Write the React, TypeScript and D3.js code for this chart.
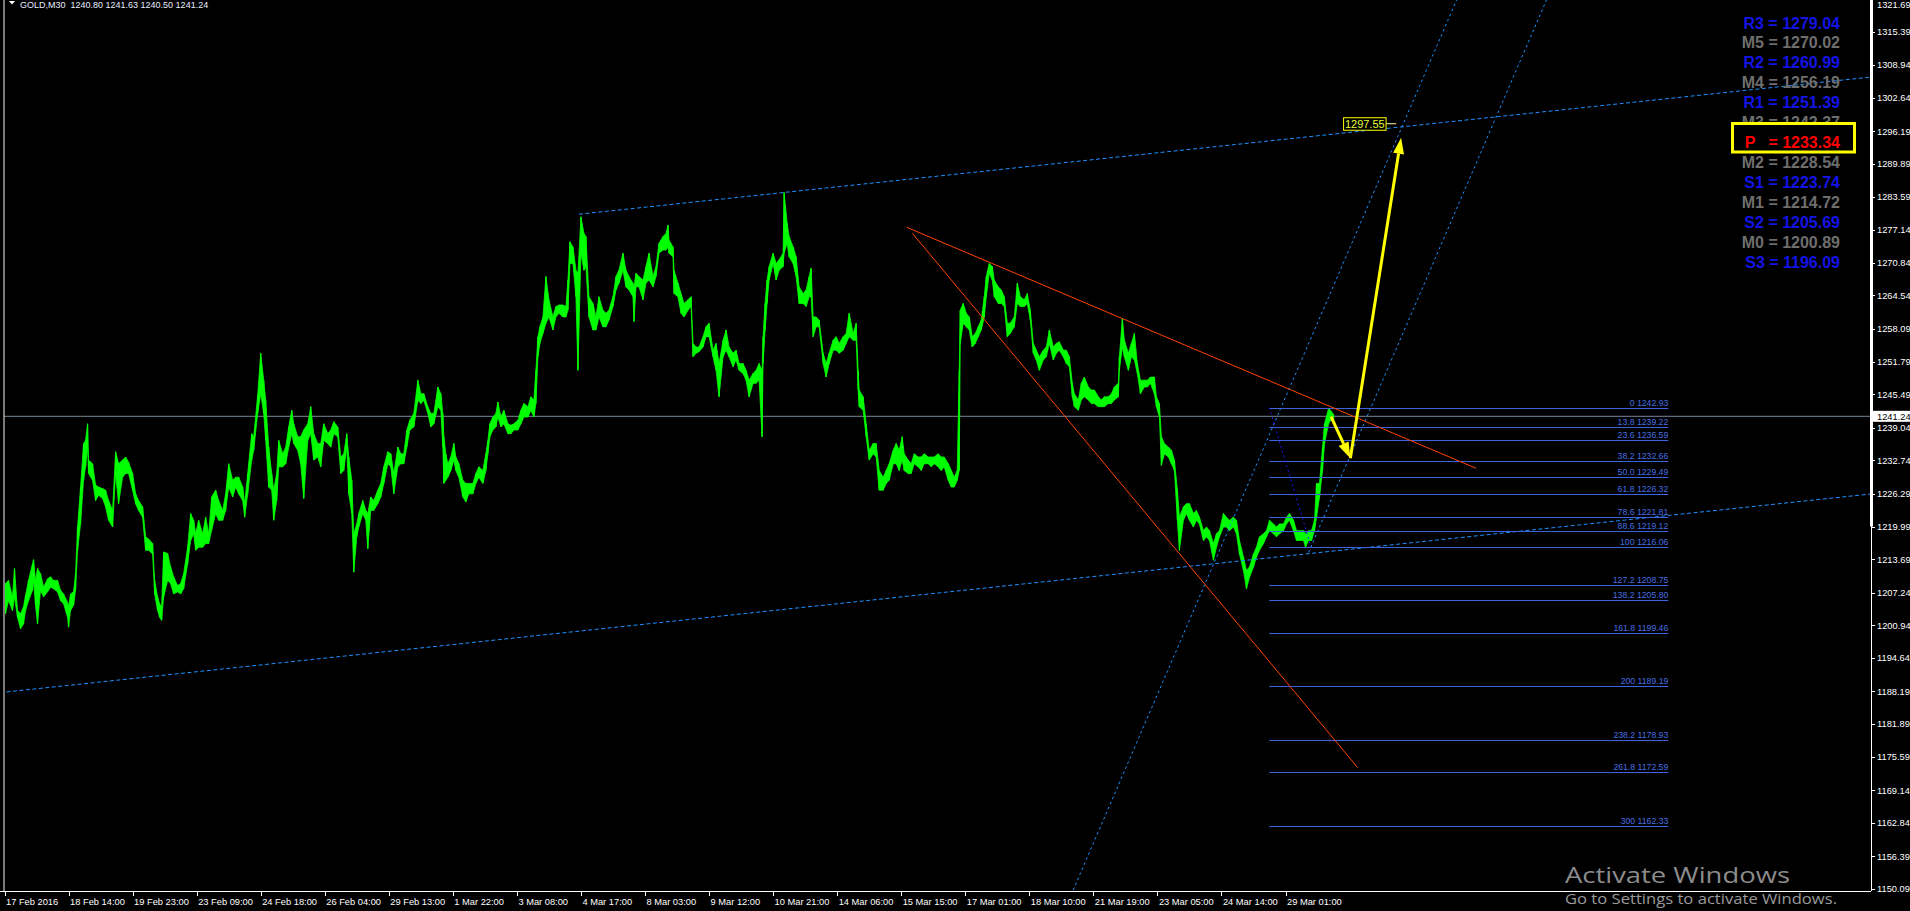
import React from 'react';
import * as d3 from 'd3';

// ---------- price series (M30 bars, sampled) : bar index, high, low ----------
const bars = [
  1, 4, 8, 10, 13, 16, 19, 21, 24, 28, 29, 31, 33, 36, 39, 43, 46, 49, 53, 56, 59, 63, 64, 66, 69, 71, 73, 76, 79, 81, 83, 84, 88, 91, 94, 98,
  101, 104, 108, 111, 114, 118, 121, 124, 128, 131, 134, 138, 141, 144, 148, 150, 153, 155, 157, 159, 163, 166, 169, 173, 176, 179, 183, 186, 189, 191, 194, 198,
  201, 204, 207, 211, 214, 218, 221, 224, 228, 231, 234, 238, 240, 243, 247, 249, 253, 256, 259, 261, 264, 267, 269, 272, 274, 278, 281, 284, 287, 289, 293, 296, 299,
  303, 306, 309, 313, 316, 319, 323, 326, 329, 333, 336, 339, 342, 344, 347, 349, 352, 354, 358, 361, 363, 366, 369, 373, 376, 379, 383, 386, 389, 393, 396, 399,
  402, 405, 409, 413, 416, 419, 423, 426, 429, 433, 436, 438,
  439, 441, 443, 446, 449, 451, 454, 458, 461, 464, 468, 471, 474, 478, 481, 483, 485, 488, 491, 493, 496, 499,
  503, 506, 509, 513, 516, 519, 523, 526, 529, 531, 533, 535, 538, 541, 544, 548, 551, 554, 558, 561, 563, 565, 568, 571, 573, 576, 579, 581, 584, 588, 591, 594, 598,
  601, 604, 608, 611, 614, 618, 621, 624, 628, 629, 631, 634, 638, 641, 644, 648, 651, 654, 658, 661, 663, 664, 668, 669, 673, 676, 679, 683, 686, 688, 691, 694, 698,
  701, 704, 708, 711, 714, 718, 721, 724, 728, 731, 734, 738, 741, 744, 748, 751, 754, 757, 758, 760, 762, 764, 768, 771, 774, 778, 779, 782, 784, 788, 791, 794, 798,
  801, 804, 806, 808, 811, 814, 818, 821, 824, 828, 831, 834, 838, 841, 844, 848, 851, 853, 854, 858, 861, 864, 868, 871, 874, 878,
  881, 884, 888, 891, 894, 897, 899, 903, 906, 909, 913, 916, 919, 923, 926, 929, 933, 936, 939, 943, 946, 949, 952, 954, 955, 958, 961, 964, 967, 970, 973, 976, 979, 981, 984, 987, 989, 993, 996, 999,
  1002, 1005, 1009, 1012, 1015, 1019, 1022, 1025, 1028, 1031, 1034, 1038, 1041, 1044, 1048, 1051, 1054, 1058, 1061, 1064, 1067, 1069, 1073, 1076, 1079, 1083, 1086, 1089, 1093, 1096, 1099,
  1103, 1106, 1109, 1113, 1114, 1117, 1119, 1123, 1126, 1129, 1132, 1135, 1139, 1142, 1145, 1149, 1151, 1154, 1156, 1159, 1163, 1166, 1169, 1172, 1174, 1178, 1181, 1184, 1188, 1191, 1194, 1198,
  1201, 1204, 1208, 1211, 1214, 1218, 1221, 1224, 1228, 1231, 1234, 1238, 1241, 1244, 1248, 1251, 1254, 1258, 1261, 1264, 1268, 1271, 1274, 1278, 1281, 1284, 1288, 1291, 1294, 1298,
  1300, 1303, 1306, 1309, 1311, 1314, 1317, 1319, 1323, 1325, 1328,
];
const highs = [
  1209.0, 1209.6, 1206.4, 1211.9, 1203.8, 1203.2, 1204.5, 1206.7, 1209.6, 1212.8, 1213.6, 1209.6, 1211.9, 1210.9, 1208.3, 1209.9, 1210.3, 1209.6, 1209.6, 1207.7, 1207.0, 1205.4, 1204.5, 1207.0, 1207.4, 1210.9, 1219.9, 1227.6, 1236.0, 1236.6, 1239.8, 1232.8, 1232.1, 1228.0, 1227.6, 1227.3,
  1227.0, 1225.0, 1223.1, 1234.4, 1232.1, 1232.8, 1233.4, 1232.4, 1230.2, 1226.3, 1225.0, 1223.8, 1218.0, 1217.6, 1216.7, 1209.6, 1206.4, 1205.1, 1204.5, 1215.1, 1214.8, 1212.2, 1210.3, 1208.6, 1209.0, 1210.9, 1216.0, 1222.5, 1221.2, 1218.6, 1221.2, 1218.6,
  1221.8, 1218.6, 1225.7, 1227.0, 1225.0, 1223.1, 1226.3, 1232.1, 1228.9, 1229.5, 1229.5, 1227.6, 1224.4, 1230.2, 1237.9, 1237.3, 1245.3, 1253.4, 1248.2, 1244.3, 1235.3, 1230.2, 1227.0, 1230.2, 1236.6, 1234.0, 1235.3, 1239.2, 1242.4, 1239.8, 1237.3, 1237.3, 1238.6,
  1239.8, 1243.1, 1237.9, 1236.0, 1236.0, 1239.8, 1237.9, 1238.6, 1240.2, 1239.2, 1233.4, 1234.0, 1237.9, 1233.4, 1228.9, 1218.6, 1220.5, 1222.5, 1225.0, 1223.1, 1222.5, 1225.7, 1225.0, 1227.0, 1228.3, 1231.5, 1234.4, 1234.0, 1230.2, 1235.3, 1234.0, 1234.0,
  1238.6, 1240.5, 1241.8, 1248.2, 1245.6, 1245.6, 1243.1, 1241.8, 1241.8, 1246.9, 1245.6, 1241.8,
  1237.3, 1234.0, 1232.1, 1233.4, 1236.0, 1233.4, 1232.1, 1228.9, 1228.3, 1228.3, 1228.3, 1230.2, 1231.5, 1230.8, 1234.0, 1236.6, 1239.8, 1241.1, 1241.8, 1244.0, 1241.1, 1242.4,
  1239.8, 1239.5, 1239.8, 1240.5, 1242.4, 1243.7, 1243.1, 1245.0, 1244.4, 1250.1, 1256.6, 1258.5, 1260.4, 1268.2, 1263.7, 1260.4, 1262.4, 1262.7, 1262.7, 1262.4, 1267.5, 1274.9, 1273.9, 1269.4, 1268.8, 1279.7, 1276.5, 1275.9, 1264.3, 1263.0, 1260.4, 1264.3, 1261.7,
  1261.1, 1261.7, 1264.3, 1268.2, 1269.4, 1272.7, 1269.4, 1268.2, 1266.9, 1266.2, 1268.8, 1268.2, 1267.5, 1270.1, 1272.7, 1268.2, 1270.1, 1274.6, 1275.9, 1276.5, 1278.1, 1275.2, 1273.9, 1269.4, 1266.9, 1264.9, 1263.0, 1263.7, 1264.3, 1255.3, 1254.6, 1254.6, 1256.6,
  1258.5, 1259.2, 1254.0, 1255.3, 1251.4, 1255.9, 1257.9, 1254.6, 1253.4, 1254.0, 1251.4, 1251.4, 1250.1, 1248.2, 1249.5, 1250.1, 1251.4, 1250.1, 1256.6, 1263.0, 1267.5, 1270.1, 1272.7, 1270.7, 1271.4, 1272.7, 1284.4, 1278.5, 1275.9, 1273.9, 1272.0, 1266.2, 1264.9,
  1265.6, 1268.2, 1269.8, 1260.4, 1260.4, 1259.8, 1253.4, 1251.4, 1253.4, 1255.9, 1256.6, 1255.3, 1256.6, 1257.2, 1261.1, 1257.2, 1259.2, 1250.1, 1246.3, 1245.0, 1239.8, 1234.7, 1236.0, 1236.0, 1230.8, 1229.5,
  1230.8, 1232.1, 1234.7, 1236.0, 1234.7, 1237.3, 1234.0, 1232.8, 1232.1, 1234.0, 1233.4, 1233.4, 1234.0, 1233.4, 1233.4, 1233.4, 1234.0, 1233.4, 1233.4, 1232.1, 1230.8, 1229.5, 1230.8, 1250.1, 1261.7, 1263.0, 1261.1, 1260.4, 1256.6, 1257.2, 1258.5, 1259.8, 1264.3, 1268.2, 1270.7, 1270.1, 1267.5, 1266.2, 1265.6, 1264.3,
  1259.2, 1259.2, 1260.4, 1266.9, 1264.3, 1263.7, 1264.9, 1261.7, 1255.3, 1254.0, 1252.7, 1254.0, 1254.6, 1257.9, 1254.6, 1255.3, 1255.6, 1254.0, 1254.0, 1252.7, 1247.6, 1245.6, 1244.4, 1247.6, 1248.8, 1246.9, 1246.3, 1246.3, 1245.0, 1244.4, 1245.0,
  1245.0, 1245.6, 1246.9, 1247.6, 1252.7, 1260.1, 1255.9, 1253.4, 1255.3, 1257.2, 1251.4, 1248.2, 1248.2, 1248.2, 1248.8, 1248.8, 1245.0, 1243.7, 1237.3, 1236.0, 1235.3, 1234.7, 1232.8, 1227.0, 1221.8, 1223.8, 1224.4, 1224.4, 1222.5, 1223.1, 1221.8, 1219.2,
  1219.9, 1219.2, 1216.7, 1218.6, 1219.2, 1222.5, 1221.8, 1221.2, 1221.8, 1221.2, 1217.3, 1214.1, 1211.5, 1212.2, 1214.7, 1216.0, 1218.0, 1218.6, 1219.2, 1221.2, 1220.5, 1219.9, 1220.5, 1220.5, 1221.8, 1222.5, 1221.2, 1219.2, 1219.2, 1219.2,
  1218.6, 1219.2, 1219.2, 1221.2, 1228.3, 1228.3, 1235.3, 1239.8, 1242.7, 1242.4, 1241.6,
];
const lows = [
  1203.2, 1205.7, 1203.8, 1206.4, 1202.5, 1200.3, 1201.2, 1203.8, 1205.7, 1207.7, 1209.6, 1204.8, 1201.2, 1207.7, 1206.4, 1207.4, 1208.3, 1208.0, 1207.4, 1205.7, 1205.1, 1202.5, 1200.6, 1203.8, 1204.8, 1207.7, 1215.4, 1220.5, 1228.9, 1231.5, 1235.3, 1230.2, 1228.9, 1225.0, 1226.0, 1225.4,
  1223.8, 1221.2, 1219.9, 1230.2, 1224.4, 1229.5, 1230.2, 1230.2, 1227.0, 1224.4, 1223.1, 1221.8, 1215.4, 1215.4, 1214.7, 1207.0, 1203.8, 1202.5, 1201.9, 1206.4, 1209.6, 1209.0, 1207.0, 1207.4, 1207.0, 1208.0, 1212.8, 1217.3, 1218.6, 1215.4, 1216.0, 1216.0,
  1216.7, 1216.7, 1219.3, 1222.5, 1221.2, 1221.2, 1223.1, 1227.6, 1225.7, 1227.6, 1226.3, 1225.0, 1221.8, 1226.3, 1232.8, 1234.7, 1241.8, 1245.6, 1241.8, 1236.6, 1227.6, 1227.0, 1221.2, 1225.0, 1231.5, 1231.5, 1232.1, 1235.3, 1237.9, 1236.0, 1234.7, 1232.1, 1225.4,
  1236.6, 1237.9, 1232.8, 1233.4, 1231.5, 1236.6, 1236.0, 1235.3, 1237.9, 1237.3, 1230.2, 1230.8, 1235.3, 1226.3, 1222.5, 1211.2, 1218.0, 1219.9, 1222.5, 1221.2, 1215.7, 1223.1, 1223.1, 1224.4, 1225.7, 1228.3, 1232.1, 1231.5, 1226.3, 1231.5, 1232.1, 1232.1,
  1235.3, 1238.6, 1239.2, 1244.3, 1243.7, 1244.3, 1241.8, 1239.2, 1239.8, 1243.1, 1242.4, 1235.3,
  1228.3, 1228.9, 1229.5, 1230.8, 1232.8, 1230.8, 1229.5, 1225.7, 1224.7, 1226.3, 1226.3, 1228.3, 1229.5, 1228.3, 1230.8, 1234.0, 1237.3, 1238.6, 1239.2, 1241.1, 1239.2, 1239.8,
  1237.9, 1237.9, 1238.6, 1238.6, 1239.8, 1241.1, 1241.1, 1242.4, 1241.1, 1243.7, 1252.7, 1255.3, 1257.2, 1259.2, 1260.4, 1257.9, 1260.4, 1261.1, 1260.4, 1260.4, 1261.7, 1270.7, 1270.7, 1264.3, 1250.1, 1272.7, 1269.4, 1270.1, 1260.4, 1257.9, 1257.9, 1260.4, 1258.5,
  1258.5, 1259.8, 1262.4, 1265.6, 1266.9, 1269.4, 1266.2, 1265.6, 1264.3, 1259.5, 1266.2, 1266.2, 1263.7, 1266.9, 1267.5, 1266.2, 1268.2, 1272.7, 1273.3, 1273.3, 1273.9, 1272.7, 1272.0, 1264.9, 1264.3, 1261.1, 1260.4, 1261.7, 1262.4, 1252.7, 1253.4, 1253.7, 1254.6,
  1256.6, 1256.6, 1252.7, 1250.1, 1245.0, 1252.7, 1254.0, 1252.7, 1250.8, 1252.1, 1250.1, 1249.5, 1248.2, 1245.0, 1247.6, 1247.6, 1248.2, 1237.3, 1251.4, 1257.9, 1263.0, 1267.5, 1270.7, 1267.5, 1269.4, 1270.1, 1272.7, 1274.6, 1272.0, 1270.7, 1268.2, 1263.0, 1263.0,
  1262.4, 1264.3, 1264.3, 1256.6, 1258.5, 1258.5, 1251.4, 1248.8, 1251.4, 1254.0, 1254.0, 1253.4, 1254.0, 1255.3, 1256.6, 1255.9, 1255.9, 1246.3, 1243.1, 1242.4, 1237.3, 1232.8, 1234.0, 1233.4, 1227.0, 1227.0,
  1228.3, 1228.9, 1232.1, 1232.1, 1230.8, 1232.8, 1230.8, 1230.2, 1230.2, 1232.1, 1231.5, 1230.8, 1232.1, 1232.1, 1231.5, 1232.1, 1231.5, 1230.8, 1231.5, 1228.9, 1227.6, 1227.6, 1228.9, 1230.8, 1255.3, 1259.2, 1258.5, 1257.9, 1254.6, 1255.3, 1256.6, 1257.9, 1260.4, 1264.3, 1268.8, 1267.5, 1264.3, 1263.0, 1263.0, 1262.4,
  1256.6, 1257.2, 1258.5, 1263.0, 1262.4, 1262.4, 1263.0, 1259.8, 1253.4, 1252.1, 1250.1, 1252.1, 1252.7, 1255.3, 1252.1, 1253.4, 1254.0, 1252.7, 1251.4, 1250.8, 1245.0, 1243.1, 1242.4, 1244.4, 1245.0, 1244.4, 1243.7, 1243.7, 1243.1, 1243.1, 1243.1,
  1243.7, 1243.7, 1244.4, 1245.0, 1250.1, 1254.6, 1252.7, 1250.1, 1252.7, 1252.1, 1249.5, 1245.6, 1246.9, 1246.9, 1247.6, 1245.6, 1243.1, 1241.1, 1231.8, 1234.0, 1233.4, 1232.1, 1230.8, 1221.2, 1215.4, 1221.2, 1222.5, 1221.2, 1219.9, 1221.2, 1220.5, 1217.3,
  1218.0, 1217.3, 1213.5, 1216.0, 1218.0, 1219.9, 1219.9, 1219.2, 1219.9, 1218.6, 1214.7, 1211.5, 1208.0, 1210.2, 1212.2, 1214.1, 1215.4, 1216.7, 1218.0, 1219.2, 1218.6, 1218.0, 1218.6, 1219.2, 1220.5, 1221.2, 1219.2, 1217.3, 1217.3, 1217.3,
  1216.0, 1217.3, 1217.3, 1219.2, 1221.8, 1225.7, 1230.8, 1236.0, 1239.8, 1240.5, 1240.5,
];

// ---------- axes ----------
const priceTicks = [
  1321.69, 1315.39, 1308.94, 1302.64, 1296.19, 1289.89, 1283.59, 1277.14, 1270.84, 1264.54, 1258.09, 1251.79, 1245.49,
  1239.04, 1232.74, 1226.29, 1219.99, 1213.69, 1207.24, 1200.94, 1194.64, 1188.19, 1181.89, 1175.59, 1169.14, 1162.84, 1156.39, 1150.09,
];
const currentPrice = 1241.24;
const titleText = 'GOLD,M30  1240.80 1241.63 1240.50 1241.24';
const dateTickBars = [0, 64, 128, 192, 256, 320, 384, 448, 512, 576, 640, 704, 768, 832, 896, 960, 1024, 1088, 1152, 1216, 1280];
const dateLabels = [
  '17 Feb 2016', '18 Feb 14:00', '19 Feb 23:00', '23 Feb 09:00', '24 Feb 18:00', '26 Feb 04:00', '29 Feb 13:00',
  '1 Mar 22:00', '3 Mar 08:00', '4 Mar 17:00', '8 Mar 03:00', '9 Mar 12:00', '10 Mar 21:00', '14 Mar 06:00',
  '15 Mar 15:00', '17 Mar 01:00', '18 Mar 10:00', '21 Mar 19:00', '23 Mar 05:00', '24 Mar 14:00', '29 Mar 01:00',
];

// ---------- Fibonacci ----------
const fibLevels = ['0', '13.8', '23.6', '38.2', '50.0', '61.8', '78.6', '88.6', '100', '127.2', '138.2', '161.8', '200', '238.2', '261.8', '300'];
const fibPrices = [1242.93, 1239.22, 1236.59, 1232.66, 1229.49, 1226.32, 1221.81, 1219.12, 1216.06, 1208.75, 1205.80, 1199.46, 1189.19, 1178.93, 1172.59, 1162.33];
const fibStartBar = 1263.8;
const fibEndBar = 1662.5;
const fibDiagonal = [[1263.8, 1242.93], [1305.5, 1216.06]];

// ---------- Pivot table ----------
const pivotNames = ['R3', 'M5', 'R2', 'M4', 'R1', 'M3', 'P', 'M2', 'S1', 'M1', 'S2', 'M0', 'S3'];
const pivotValues = [1279.04, 1270.02, 1260.99, 1256.19, 1251.39, 1242.37, 1233.34, 1228.54, 1223.74, 1214.72, 1205.69, 1200.89, 1196.09];
const pivotKinds = ['R', 'M', 'R', 'M', 'R', 'M', 'P', 'M', 'S', 'M', 'S', 'M', 'S'];

// ---------- drawn objects (bar index, price) ----------
const channelUpper = [[574, 1280.2], [779, 1284.4]];
const channelLower = [[2, 1188.1], [1207, 1212.79]];
const steepLeft = [[1175.5, 1198.12], [1335.5, 1269.78]];
const steepRight = [[1303, 1215.0], [1463, 1286.66]];
const orangeUpper = [[901.5, 1277.68], [1470.5, 1231.22]];
const orangeLower = [[907.2, 1276.52], [1352.2, 1173.5]];
const arrowDown = [[1325.5, 1241.17], [1344.8, 1233.15]];
const arrowUp = [[1344.8, 1233.15], [1395.5, 1294.95]];
const targetLabelBar = 1390.5;
const targetLabelPrice = 1297.55;

const AXIS_X = 1871;
const AXIS_Y = 891;
const FONT = "'Liberation Sans', Arial, sans-serif";

export default function App() {
  const x = d3.scaleLinear().domain([0, 1280]).range([4.5, 1285.5]);
  const y = d3.scaleLinear().domain([1150.09, 1315.39]).range([889.1, 31.7]);

  const data = bars.map((b, i) => ({ b, h: highs[i], l: lows[i] }));
  const area = d3
    .area<{ b: number; h: number; l: number }>()
    .x((d) => x(d.b))
    .y0((d) => y(d.l))
    .y1((d) => y(d.h));

  const seg = (pts: number[][], extLeft: boolean, extRight: boolean) => {
    const [p1, p2] = pts;
    const slope = (p2[1] - p1[1]) / (p2[0] - p1[0]);
    const b1 = extLeft ? x.invert(-400) : p1[0];
    const b2 = extRight ? x.invert(AXIS_X + 400) : p2[0];
    return {
      x1: x(b1),
      y1: y(p1[1] + slope * (b1 - p1[0])),
      x2: x(b2),
      y2: y(p1[1] + slope * (b2 - p1[0])),
    };
  };

  const arrow = (pts: number[][]) => {
    const X1 = x(pts[0][0]), Y1 = y(pts[0][1]);
    const X2 = x(pts[1][0]), Y2 = y(pts[1][1]);
    const dx = X2 - X1, dy = Y2 - Y1;
    const len = Math.hypot(dx, dy);
    const ux = dx / len, uy = dy / len;
    const hl = 16, hw = 5.5;
    const bx = X2 - ux * hl, by = Y2 - uy * hl;
    const head = [
      [X2, Y2],
      [bx - uy * hw, by + ux * hw],
      [bx + uy * hw, by - ux * hw],
    ];
    return { X1, Y1, bx, by, head: head.map((p) => p.join(',')).join(' ') };
  };

  const lineEl = (s: any, color: string, dash?: string, w = 1) => (
    <line x1={s.x1} y1={s.y1} x2={s.x2} y2={s.y2} stroke={color} strokeWidth={w} strokeDasharray={dash} />
  );

  const a1 = arrow(arrowDown);
  const a2 = arrow(arrowUp);
  const pivotColor = (k: string) => (k === 'P' ? '#ff0000' : k === 'M' ? '#6e6e6e' : '#1414e6');
  const pivotRowY = (i: number) => 22.7 + i * 19.92;
  const tlx = x(targetLabelBar);
  const tly = y(targetLabelPrice);

  return (
    <div style={{ position: 'absolute', left: 0, top: 0, width: 1910, height: 911, background: '#000' }}>
      <svg width={1910} height={911} style={{ display: 'block' }} fontFamily={FONT}>
        <defs>
          <clipPath id="plot">
            <rect x={0} y={0} width={AXIS_X} height={AXIS_Y} />
          </clipPath>
        </defs>
        <rect x={0} y={0} width={1910} height={911} fill="#000" />

        <g clipPath="url(#plot)">
          {/* current price line */}
          <line x1={4} x2={AXIS_X} y1={y(currentPrice)} y2={y(currentPrice)} stroke="#778899" strokeWidth={1} />

          {/* price band */}
          <path d={area(data) || ''} fill="#00ff00" stroke="#00ff00" strokeWidth={0.8} />
          {data.map((d, i) => (
            <line key={i} x1={x(d.b)} x2={x(d.b)} y1={y(d.h)} y2={y(d.l)} stroke="#00ff00" strokeWidth={1.2} />
          ))}

          {/* channel */}
          {lineEl(seg(channelUpper, false, true), '#1e90ff', '4,2.5')}
          {lineEl(seg(channelLower, false, true), '#1e90ff', '4,2.5')}
          {lineEl(seg(steepLeft, true, true), '#1e90ff', '2.5,3')}
          {lineEl(seg(steepRight, false, true), '#1e90ff', '2.5,3')}

          {/* fibonacci */}
          {fibPrices.map((p, i) => (
            <g key={'f' + i}>
              <line x1={x(fibStartBar)} x2={x(fibEndBar)} y1={Math.round(y(p)) + 0.5} y2={Math.round(y(p)) + 0.5} stroke="#3d63dd" strokeWidth={1} />
              <text x={x(fibEndBar)} y={Math.round(y(p)) - 2} textAnchor="end" fontSize={8.7} fill="#4a6ee0">
                {fibLevels[i] + ' ' + p.toFixed(2)}
              </text>
            </g>
          ))}
          {lineEl(seg(fibDiagonal, false, false), '#1a1aff', '2,3')}

          {/* triangle lines */}
          {lineEl(seg(orangeUpper, false, false), '#ff4500')}
          {lineEl(seg(orangeLower, false, false), '#ff4500')}

          {/* projection arrows */}
          <line x1={a1.X1} y1={a1.Y1} x2={a1.bx} y2={a1.by} stroke="#ffff00" strokeWidth={3} />
          <polygon points={a1.head} fill="#ffff00" />
          <line x1={a2.X1} y1={a2.Y1} x2={a2.bx} y2={a2.by} stroke="#ffff00" strokeWidth={3} />
          <polygon points={a2.head} fill="#ffff00" />

          {/* target price label */}
          <line x1={tlx - 10} x2={tlx} y1={tly - 0.5} y2={tly - 0.5} stroke="#ffff99" strokeWidth={1} />
          <rect x={tlx - 52.5} y={tly - 6.5} width={42.5} height={12.5} fill="#000" stroke="#ffff00" strokeWidth={1} />
          <text x={tlx - 31.3} y={tly + 4} textAnchor="middle" fontSize={11} fill="#e6ff33">
            {targetLabelPrice.toFixed(2)}
          </text>

          {/* pivot table */}
          {pivotNames.map((n, i) =>
            n === 'P' ? null : (
              <text key={n} x={1840} y={pivotRowY(i) + 5.8} textAnchor="end" fontSize={16} fontWeight="bold" fill={pivotColor(pivotKinds[i])}>
                {n + ' = ' + pivotValues[i].toFixed(2)}
              </text>
            )
          )}
          <rect x={1732.5} y={123.5} width={122} height={28.5} fill="#000" stroke="#ffff00" strokeWidth={3} />
          {pivotNames.map((n, i) =>
            n !== 'P' ? null : (
              <text key={n} x={1840} y={pivotRowY(i) + 5.8} textAnchor="end" fontSize={16} fontWeight="bold" fill={pivotColor(pivotKinds[i])} style={{ whiteSpace: 'pre' }}>
                {n + '   = ' + pivotValues[i].toFixed(2)}
              </text>
            )
          )}
        </g>

        {/* title */}
        <polygon points="9,1 15,1 12,4.5" fill="#ffffff" />
        <text x={20} y={7.5} fontSize={9} fill="#e8eeff" style={{ whiteSpace: 'pre' }}>
          {titleText}
        </text>

        {/* frame */}
        <line x1={4} x2={4} y1={0} y2={AXIS_Y} stroke="#bdbdbd" strokeWidth={1.3} />
        <line x1={0} x2={AXIS_X} y1={AXIS_Y + 0.5} y2={AXIS_Y + 0.5} stroke="#ffffff" strokeWidth={1} />
        <line x1={AXIS_X + 0.5} x2={AXIS_X + 0.5} y1={0} y2={AXIS_Y} stroke="#ffffff" strokeWidth={1} />
        <line x1={AXIS_X + 0.5} x2={AXIS_X + 0.5} y1={0} y2={y(1219.99)} stroke="#ffffff" strokeWidth={3} />

        {/* price axis */}
        {priceTicks.map((p) => (
          <g key={p}>
            <line x1={AXIS_X} x2={AXIS_X + 4} y1={Math.round(y(p)) + 0.5} y2={Math.round(y(p)) + 0.5} stroke="#fff" />
            <text x={1877} y={Math.max(y(p) + 3.3, 7.5)} fontSize={9.3} fill="#ffffff">
              {p.toFixed(2)}
            </text>
          </g>
        ))}
        <rect x={1872} y={y(currentPrice) - 5.5} width={38} height={11} fill="#ffffff" />
        <text x={1877} y={y(currentPrice) + 3.3} fontSize={9.3} fill="#000000">
          {currentPrice.toFixed(2)}
        </text>

        {/* time axis */}
        {dateTickBars.map((b, i) => (
          <g key={b}>
            <line x1={Math.round(x(b)) + 0.5} x2={Math.round(x(b)) + 0.5} y1={AXIS_Y} y2={AXIS_Y + 5} stroke="#fff" />
            <text x={x(b) + 1.5} y={905} fontSize={9.3} fill="#ffffff">
              {dateLabels[i]}
            </text>
          </g>
        ))}

        {/* OS watermark */}
        <text x={1565} y={883} fontSize={22} fill="#8c8c8c" fontFamily="'Open Sans', 'Noto Sans', sans-serif" textLength={225} lengthAdjust="spacingAndGlyphs">
          Activate Windows
        </text>
        <text x={1565} y={904} fontSize={14} fill="#9a9a9a" fontFamily="'Open Sans', 'Noto Sans', sans-serif" textLength={272} lengthAdjust="spacingAndGlyphs">
          Go to Settings to activate Windows.
        </text>
      </svg>
    </div>
  );
}
